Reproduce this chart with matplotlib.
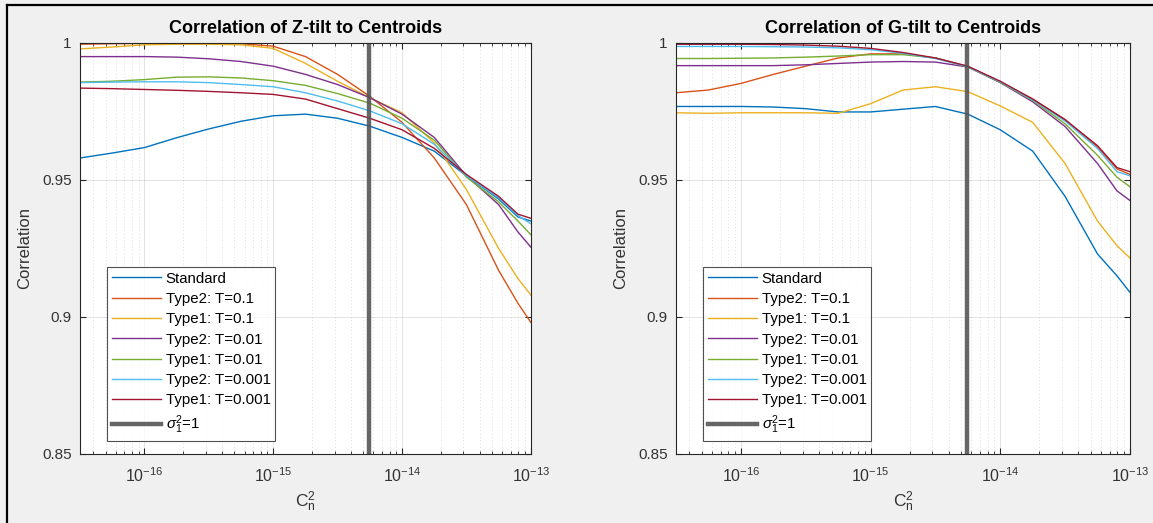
import matplotlib
matplotlib.use("Agg")
import matplotlib.pyplot as plt
from matplotlib.lines import Line2D
from matplotlib.ticker import LogLocator, FixedLocator, FixedFormatter

# MATPLOTLIB PARAMS
plt.rcParams['font.family'] = ['Liberation Sans', 'DejaVu Sans']
plt.rcParams['mathtext.fontset'] = 'custom'
plt.rcParams['mathtext.rm'] = 'Liberation Sans'
plt.rcParams['mathtext.it'] = 'Liberation Sans:italic'
plt.rcParams['xtick.direction'] = 'in'
plt.rcParams['ytick.direction'] = 'in'
plt.rcParams['xtick.labelsize'] = 11.5
plt.rcParams['ytick.labelsize'] = 11

# DATA  (C_n^2 grid)
cn2 = [3.16e-17, 5.62e-17, 1.0e-16, 1.78e-16, 3.16e-16, 5.62e-16, 1.0e-15, 1.78e-15,
       3.16e-15, 5.62e-15, 1.0e-14, 1.78e-14, 3.16e-14, 5.62e-14, 7.94e-14, 1.0e-13]

sigma_cn2 = 5.5e-15

labels = ["Standard", "Type2: T=0.1", "Type1: T=0.1", "Type2: T=0.01",
          "Type1: T=0.01", "Type2: T=0.001", "Type1: T=0.001"]

colors = ["#0072BD", "#D95319", "#EDB120", "#7E2F8E", "#77AC30", "#4DBEEE", "#A2142F"]

# Z-TILT
z_standard = [0.9580, 0.9598, 0.9618, 0.9654, 0.9686, 0.9714, 0.9734, 0.9740,
              0.9725, 0.9696, 0.9655, 0.9605, 0.9515, 0.9430, 0.9365, 0.9350]
z_t2_01 = [0.9995, 0.9997, 0.9998, 0.9998, 0.9998, 0.9997, 0.9988, 0.9950,
           0.9885, 0.9805, 0.9710, 0.9580, 0.9410, 0.9170, 0.9050, 0.8980]
z_t1_01 = [0.9978, 0.9985, 0.9993, 0.9995, 0.9995, 0.9993, 0.9980, 0.9925,
           0.9860, 0.9800, 0.9745, 0.9635, 0.9465, 0.9250, 0.9140, 0.9080]
z_t2_001 = [0.9950, 0.9950, 0.9950, 0.9948, 0.9942, 0.9932, 0.9915, 0.9885,
            0.9848, 0.9800, 0.9740, 0.9655, 0.9515, 0.9410, 0.9310, 0.9255]
z_t1_001 = [0.9857, 0.9860, 0.9866, 0.9875, 0.9876, 0.9872, 0.9862, 0.9845,
            0.9815, 0.9780, 0.9725, 0.9645, 0.9510, 0.9420, 0.9350, 0.9300]
z_t2_0001 = [0.9855, 0.9857, 0.9858, 0.9858, 0.9855, 0.9848, 0.9840, 0.9818,
             0.9788, 0.9752, 0.9705, 0.9630, 0.9515, 0.9435, 0.9370, 0.9340]
z_t1_0001 = [0.9835, 0.9833, 0.9830, 0.9827, 0.9823, 0.9818, 0.9812, 0.9795,
             0.9760, 0.9725, 0.9683, 0.9615, 0.9520, 0.9440, 0.9375, 0.9360]

# G-TILT
g_standard = [0.9768, 0.9768, 0.9768, 0.9766, 0.9760, 0.9748, 0.9748, 0.9758,
              0.9768, 0.9740, 0.9683, 0.9605, 0.9440, 0.9230, 0.9150, 0.9090]
g_t2_01 = [0.9818, 0.9828, 0.9852, 0.9885, 0.9915, 0.9945, 0.9960, 0.9960,
           0.9945, 0.9914, 0.9858, 0.9795, 0.9720, 0.9620, 0.9540, 0.9520]
g_t1_01 = [0.9745, 0.9743, 0.9745, 0.9745, 0.9745, 0.9743, 0.9778, 0.9828,
           0.9840, 0.9822, 0.9770, 0.9710, 0.9560, 0.9350, 0.9260, 0.9215]
g_t2_001 = [0.9917, 0.9917, 0.9917, 0.9917, 0.9920, 0.9925, 0.9930, 0.9932,
            0.9930, 0.9912, 0.9855, 0.9785, 0.9695, 0.9560, 0.9460, 0.9425]
g_t1_001 = [0.9943, 0.9943, 0.9944, 0.9945, 0.9948, 0.9952, 0.9957, 0.9957,
            0.9945, 0.9913, 0.9856, 0.9790, 0.9705, 0.9590, 0.9510, 0.9475]
g_t2_0001 = [0.9987, 0.9987, 0.9987, 0.9986, 0.9985, 0.9982, 0.9975, 0.9962,
             0.9943, 0.9913, 0.9858, 0.9792, 0.9715, 0.9615, 0.9530, 0.9515]
g_t1_0001 = [0.9995, 0.9995, 0.9995, 0.9994, 0.9992, 0.9988, 0.9980, 0.9965,
             0.9945, 0.9915, 0.9860, 0.9795, 0.9720, 0.9625, 0.9545, 0.9530]

z_series = [z_standard, z_t2_01, z_t1_01, z_t2_001, z_t1_001, z_t2_0001, z_t1_0001]
g_series = [g_standard, g_t2_01, g_t1_01, g_t2_001, g_t1_001, g_t2_0001, g_t1_0001]

xticks = [1e-16, 1e-15, 1e-14, 1e-13]
xtick_labels = [r"10$^{-16}$", r"10$^{-15}$", r"10$^{-14}$", r"10$^{-13}$"]
yticks = [0.85, 0.9, 0.95, 1.0]
ytick_labels = ["0.85", "0.9", "0.95", "1"]

fig = plt.figure(figsize=(11.53, 5.23), dpi=100, facecolor="#f0f0f0")
ax1 = fig.add_axes([0.0694, 0.132, 0.391, 0.786])
ax2 = fig.add_axes([0.5863, 0.132, 0.3937, 0.786])


def PlotPanel(ax, series, title):
    for i in range(len(series)):
        ax.plot(cn2, series[i], color=colors[i], linewidth=1.0, label=labels[i])
    ax.axvline(sigma_cn2, color="#555555", alpha=0.9, linewidth=3.2, label=r"$\sigma_1^2$=1")
    ax.set_xscale("log")
    ax.set_xlim(10 ** -16.5, 1e-13)
    ax.set_ylim(0.85, 1.0)
    ax.xaxis.set_major_locator(FixedLocator(xticks))
    ax.xaxis.set_major_formatter(FixedFormatter(xtick_labels))
    ax.xaxis.set_minor_locator(LogLocator(base=10, subs=range(2, 10), numticks=30))
    ax.yaxis.set_major_locator(FixedLocator(yticks))
    ax.yaxis.set_major_formatter(FixedFormatter(ytick_labels))
    ax.tick_params(which="both", top=True, right=True, color="#262626")
    ax.tick_params(which="major", length=4, labelcolor="#333333")
    ax.tick_params(axis="x", which="major", pad=9)
    ax.tick_params(axis="y", which="major", pad=6)
    ax.tick_params(which="minor", length=2)
    ax.grid(True, which="major", color="#262626", alpha=0.15, linewidth=0.6)
    ax.grid(True, which="minor", axis="x", color="#262626", alpha=0.2,
            linestyle=(0, (1, 3)), linewidth=0.6)
    for sp in ax.spines.values():
        sp.set_color("#262626")
        sp.set_linewidth(0.8)
    ax.set_title(title, fontsize=13, fontweight="bold", pad=7)
    ax.set_xlabel(r"C$_\mathrm{n}^2$", fontsize=12.5, color="#333333", labelpad=3)
    ax.set_ylabel("Correlation", fontsize=12, color="#333333", labelpad=7)
    leg = ax.legend(loc="lower left", bbox_to_anchor=(0.06, 0.032), fontsize=10.8,
                    frameon=True, fancybox=False, edgecolor="#262626",
                    handlelength=3.3, handletextpad=0.3, labelspacing=0.42,
                    borderpad=0.3, borderaxespad=0.0)
    leg.get_frame().set_linewidth(0.8)


PlotPanel(ax1, z_series, "Correlation of Z-tilt to Centroids")
PlotPanel(ax2, g_series, "Correlation of G-tilt to Centroids")

# WINDOW BORDER (TOP, LEFT)
fig.add_artist(Line2D([6.5 / 1153, 1.0], [1 - 5 / 523, 1 - 5 / 523],
                      transform=fig.transFigure, color="black", linewidth=1.6))
fig.add_artist(Line2D([6.5 / 1153, 6.5 / 1153], [0.0, 1 - 5 / 523],
                      transform=fig.transFigure, color="black", linewidth=1.6))

plt.savefig("out.png", dpi=100, facecolor=fig.get_facecolor())
